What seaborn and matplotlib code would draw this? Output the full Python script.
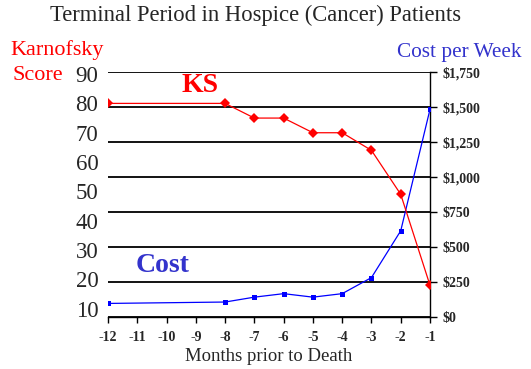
import matplotlib
matplotlib.use("Agg")
import matplotlib.pyplot as plt
import seaborn as sns
import pandas as pd
from matplotlib.ticker import FuncFormatter

months = [-12, -8, -7, -6, -5, -4, -3, -2, -1]
ks_score = [80, 80, 75, 75, 70, 70, 64, 49, 18]
cost_per_week = [95, 105, 140, 165, 140, 165, 280, 615, 1485]
x_ticks = list(range(-12, 0))
ks_ticks = [10, 20, 30, 40, 50, 60, 70, 80, 90]
cost_ticks = [0, 250, 500, 750, 1000, 1250, 1500, 1750]

df = pd.DataFrame({"month": months, "ks": ks_score, "cost": cost_per_week})

sns.set_style("white")
plt.rcParams["font.family"] = ["Liberation Serif", "DejaVu Serif"]

fig = plt.figure(figsize=(5.31, 3.69), dpi=100)
ax = fig.add_axes([108 / 531, 1 - 316.7 / 369, (430 - 108) / 531, (316.7 - 72.3) / 369])
ax2 = ax.twinx()
ax.set_zorder(ax2.get_zorder() + 1)
ax.patch.set_visible(False)

RED = "#ff0000"
BLUE = "#0000ff"
TXTBLUE = "#3333cc"

sns.lineplot(data=df, x="month", y="cost", ax=ax2, color=BLUE, linewidth=0.9,
             marker="s", markersize=3.6, markeredgewidth=0, zorder=3)
sns.lineplot(data=df, x="month", y="ks", ax=ax, color=RED, linewidth=0.9,
             marker="D", markersize=5.6, markeredgewidth=0, zorder=4)

ax.set_xlim(-12, -1)
ax.set_ylim(7.3, 90.6)
ax2.set_ylim(0, 1750)

ax.set_xticks(x_ticks)
ax.set_xticklabels([str(v) for v in x_ticks], fontsize=10, fontweight="bold")
ax.set_yticks(ks_ticks)
ax.set_yticklabels([str(v) for v in ks_ticks], fontsize=16.5)
ax.tick_params(axis="y", length=0, pad=7)
ax.tick_params(axis="x", length=4, width=1, direction="out", pad=6, color="black", bottom=True)

ax2.set_yticks(cost_ticks)
ax2.yaxis.set_major_formatter(FuncFormatter(lambda v, p: f"${int(v):,}"))
for lab in ax2.get_yticklabels():
    lab.set_fontweight("bold")
    lab.set_fontsize(10)
ax2.tick_params(axis="y", length=5, width=1, direction="out", pad=4, color="black", right=True)
ax2.yaxis.grid(True, color="black", linewidth=1.3)
ax2.xaxis.grid(False)
ax.grid(False)

for a in (ax, ax2):
    a.set_xlabel("")
    a.set_ylabel("")
    for s in ("top", "left", "right", "bottom"):
        a.spines[s].set_visible(False)
ax2.spines["right"].set_visible(True)
ax2.spines["right"].set_color("black")
ax2.spines["right"].set_linewidth(1.0)
ax.spines["bottom"].set_visible(True)
ax.spines["bottom"].set_color("black")
ax.spines["bottom"].set_linewidth(1.0)

ax.set_xlabel("Months prior to Death", fontsize=13.5, labelpad=3)

fig.text(256 / 531, 1 - 15 / 369, "Terminal Period in Hospice (Cancer) Patients",
         ha="center", va="center", fontsize=16.3)
fig.text(10 / 531, 1 - 50 / 369, "Karnofsky", ha="left", va="center", fontsize=15.9, color=RED)
fig.text(12 / 531, 1 - 76 / 369, "Score", ha="left", va="center", fontsize=15.9, color=RED)
fig.text(397 / 531, 1 - 52 / 369, "Cost per Week", ha="left", va="center", fontsize=15.3, color=TXTBLUE)
fig.text(200 / 531, 1 - 85 / 369, "KS", ha="center", va="center", fontsize=20,
         fontweight="bold", color=RED)
fig.text(163 / 531, 1 - 265 / 369, "Cost", ha="center", va="center", fontsize=20,
         fontweight="bold", color=TXTBLUE)

fig.savefig("out.png", dpi=100)
